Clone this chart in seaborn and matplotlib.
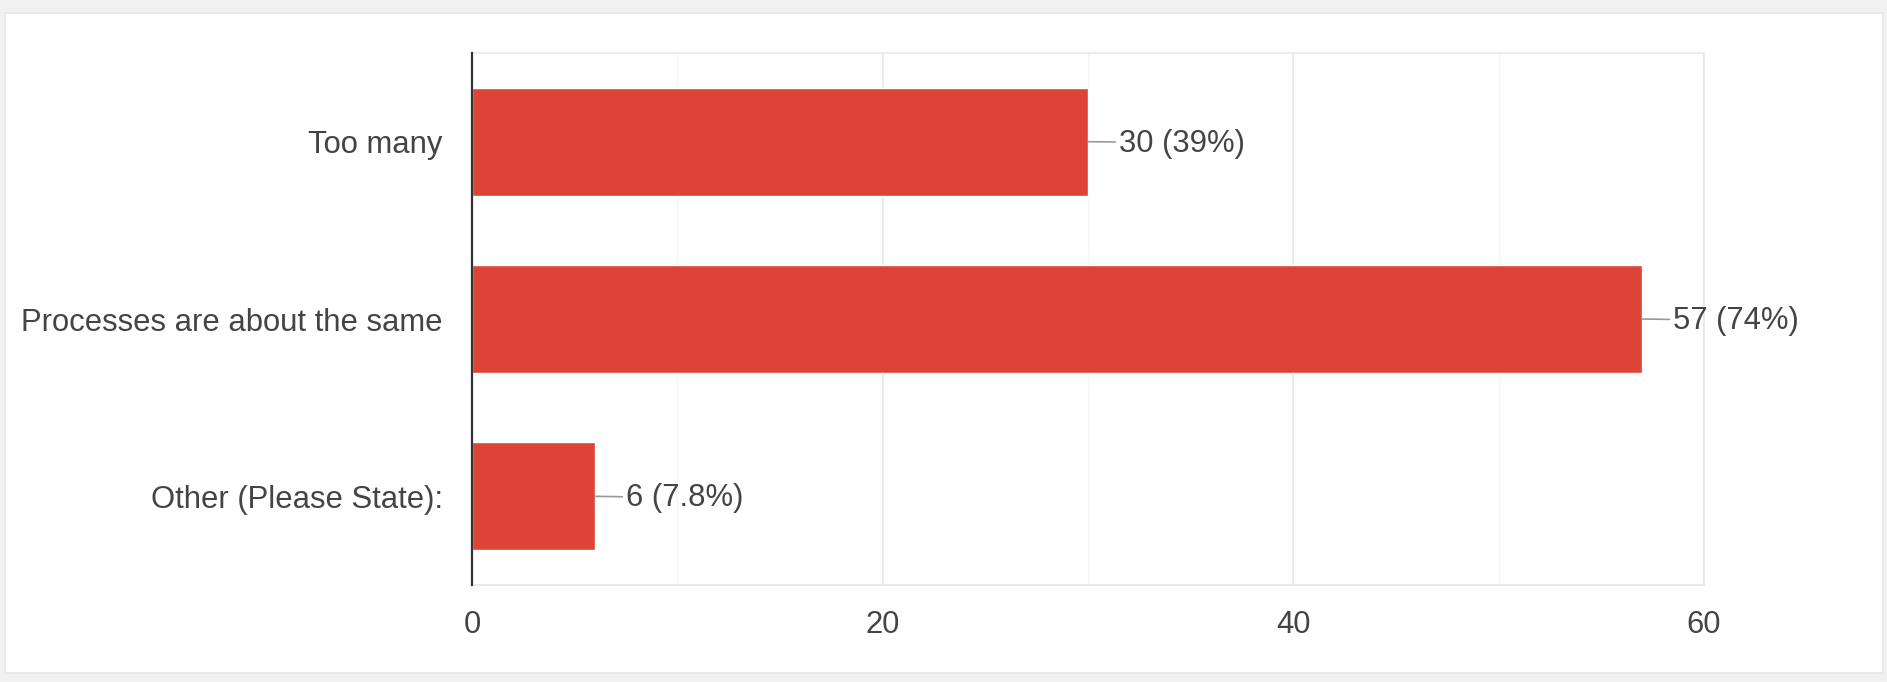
import matplotlib
matplotlib.use('Agg')
import matplotlib.pyplot as plt
import matplotlib.patches as mpatches
import pandas as pd
import seaborn as sns

# Survey answers
categories = ["Too many", "Processes are about the same", "Other (Please State):"]
counts = [30, 57, 6]
percents = ["39%", "74%", "7.8%"]
x_ticks = [0, 20, 40, 60]
x_minor = [10, 30, 50]

bar_color = '#db4437'
text_color = '#444444'
fsize = 22.3

sns.set_style('white')
plt.rcParams['font.family'] = ['Liberation Sans', 'DejaVu Sans']

df = pd.DataFrame({'answer': categories, 'count': counts})

fig = plt.figure(figsize=(18.87, 6.82), dpi=100)
fig.patch.set_facecolor('#f1f1f1')
# white card behind the chart
card = mpatches.Rectangle((5 / 1887, 9 / 682), 1878 / 1887, 660 / 682,
                          transform=fig.transFigure, facecolor='white',
                          edgecolor='#e6e6e6', linewidth=1.2, zorder=-5)
fig.add_artist(card)

ax = fig.add_axes([0.2501, 0.1422, 0.903 - 0.2501, 0.9223 - 0.1422])
ax.set_zorder(2)
sns.barplot(data=df, x='count', y='answer', color=bar_color, saturation=1,
            width=0.61, orient='h', ax=ax, zorder=3)

ax.set_xlim(0, 60)
ax.set_xticks(x_ticks)
ax.set_xticks(x_minor, minor=True)
ax.grid(axis='x', which='major', color='#e8e8e8', linewidth=1.2, zorder=0)
ax.grid(axis='x', which='minor', color='#f5f5f5', linewidth=1.0, zorder=0)
ax.set_axisbelow(True)

ax.set_xlabel('')
ax.set_ylabel('')
ax.tick_params(axis='both', which='both', length=0, labelsize=fsize, colors=text_color)
ax.tick_params(axis='y', pad=21)
ax.tick_params(axis='x', pad=18)

for side in ['top', 'bottom', 'right']:
    ax.spines[side].set_color('#e8e8e8')
    ax.spines[side].set_linewidth(1.2)
ax.spines['left'].set_color('#333333')
ax.spines['left'].set_linewidth(1.6)
ax.spines['left'].set_zorder(5)

for i, (c, p) in enumerate(zip(counts, percents)):
    ax.annotate(f"{c} ({p})", xy=(c, i), xytext=(22, -1.5), textcoords='offset points',
                ha='left', va='center', fontsize=fsize, color=text_color,
                arrowprops=dict(arrowstyle='-', color='#999999', lw=1.2,
                                shrinkA=0, shrinkB=0, relpos=(0, 0.555)))

fig.savefig('out.png', dpi=100, facecolor=fig.get_facecolor())
